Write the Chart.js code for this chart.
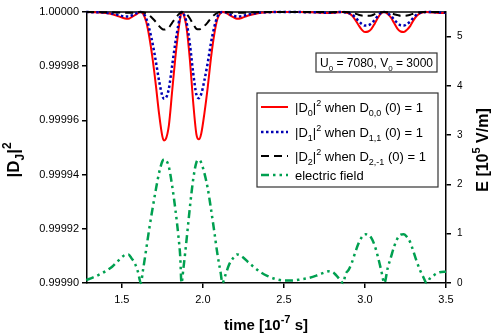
<!DOCTYPE html>
<html lang="en">
<head>
  <meta charset="UTF-8">
  <title>|D_J|^2 and electric field</title>
  <script src="https://cdn.jsdelivr.net/npm/chart.js"></script>
  <style>
    body {
      margin: 0;
      padding: 0;
      background-color: #fff;
    }
    canvas {
      display: block;
    }
  </style>
</head>
<body>
  <canvas id="chart" width="493" height="335"></canvas>
  <script>
    // time in units of 1e-7 s
    const times = [1.28, 1.32, 1.36, 1.40, 1.44, 1.48, 1.52, 1.54, 1.56, 1.58, 1.60, 1.617,
      1.63, 1.65, 1.67, 1.69, 1.71, 1.73, 1.75, 1.76, 1.77, 1.79, 1.81, 1.83, 1.85, 1.86, 1.868,
      1.88, 1.90, 1.92, 1.94, 1.96, 1.975, 1.99, 2.01, 2.03, 2.05, 2.07, 2.09, 2.11, 2.12,
      2.14, 2.16, 2.19, 2.21, 2.24, 2.28, 2.32, 2.36, 2.40, 2.45, 2.50, 2.55, 2.60, 2.65, 2.70, 2.74, 2.78, 2.81, 2.84, 2.866,
      2.88, 2.90, 2.92, 2.94, 2.96, 2.98, 3.00, 3.02, 3.04, 3.06, 3.08, 3.10, 3.12,
      3.14, 3.16, 3.18, 3.20, 3.22, 3.24, 3.26, 3.28, 3.30, 3.32, 3.34, 3.36, 3.381,
      3.40, 3.43, 3.46, 3.50];

    // electric field, 1e5 V/m
    const eField = [0.06, 0.11, 0.17, 0.24, 0.33, 0.46, 0.57, 0.58, 0.50, 0.40, 0.22, 0,
      0.25, 0.68, 1.12, 1.52, 1.90, 2.24, 2.47, 2.51, 2.50, 2.36, 1.98, 1.50, 0.92, 0.55, 0,
      0.30, 0.90, 1.54, 2.10, 2.45, 2.50, 2.44, 2.22, 1.92, 1.50, 1.05, 0.58, 0.20, 0,
      0.17, 0.36, 0.52, 0.58, 0.54, 0.42, 0.31, 0.21, 0.14, 0.08, 0.05, 0.05, 0.07, 0.10, 0.15, 0.20, 0.24, 0.20, 0.09, 0,
      0.18, 0.27, 0.42, 0.62, 0.80, 0.93, 0.99, 0.98, 0.91, 0.76, 0.53, 0.26, 0,
      0.30, 0.52, 0.74, 0.90, 0.98, 0.99, 0.93, 0.82, 0.63, 0.43, 0.26, 0.12, 0,
      0.09, 0.17, 0.22, 0.23];

    const d0 = [1.0000000, 0.9999999, 0.9999998, 0.9999996, 0.9999992, 0.9999984, 0.9999976, 0.9999975, 0.9999981, 0.9999988, 0.9999996, 1.0000000,
      0.9999995, 0.9999965, 0.9999906, 0.9999826, 0.9999729, 0.9999623, 0.9999541, 0.9999526, 0.9999530, 0.9999581, 0.9999705, 0.9999831, 0.9999936, 0.9999977, 1.0000000,
      0.9999993, 0.9999939, 0.9999822, 0.9999668, 0.9999549, 0.9999530, 0.9999552, 0.9999629, 0.9999723, 0.9999831, 0.9999917, 0.9999975, 0.9999997, 1.0000000,
      0.9999998, 0.9999990, 0.9999980, 0.9999975, 0.9999978, 0.9999987, 0.9999993, 0.9999997, 0.9999999, 1.0, 1.0, 1.0, 1.0, 0.9999999, 0.9999998, 0.9999997, 0.9999996, 0.9999997, 0.9999999, 1.0,
      0.9999998, 0.9999995, 0.9999987, 0.9999971, 0.9999952, 0.9999935, 0.9999926, 0.9999928, 0.9999938, 0.9999957, 0.9999979, 0.9999995, 1.0,
      0.9999993, 0.9999980, 0.9999959, 0.9999939, 0.9999928, 0.9999926, 0.9999935, 0.9999949, 0.9999970, 0.9999986, 0.9999995, 0.9999999, 1.0,
      0.9999999, 0.9999998, 0.9999996, 0.9999996];

    const d1 = [1.0000000, 0.9999999, 0.9999999, 0.9999997, 0.9999994, 0.9999989, 0.9999983, 0.9999983, 0.9999987, 0.9999992, 0.9999998, 1.0000000,
      0.9999997, 0.9999977, 0.9999936, 0.9999883, 0.9999817, 0.9999745, 0.9999690, 0.9999680, 0.9999682, 0.9999717, 0.9999801, 0.9999886, 0.9999957, 0.9999985, 1.0000000,
      0.9999995, 0.9999959, 0.9999880, 0.9999776, 0.9999695, 0.9999682, 0.9999698, 0.9999750, 0.9999813, 0.9999886, 0.9999944, 0.9999983, 0.9999998, 1.0000000,
      0.9999999, 0.9999993, 0.9999986, 0.9999983, 0.9999985, 0.9999991, 0.9999995, 0.9999998, 0.9999999, 1.0, 1.0, 1.0, 1.0, 0.9999999, 0.9999999, 0.9999998, 0.9999997, 0.9999998, 1.0, 1.0,
      0.9999998, 0.9999996, 0.9999991, 0.9999980, 0.9999967, 0.9999956, 0.9999950, 0.9999951, 0.9999958, 0.9999971, 0.9999986, 0.9999997, 1.0,
      0.9999995, 0.9999986, 0.9999972, 0.9999959, 0.9999951, 0.9999950, 0.9999956, 0.9999966, 0.9999980, 0.9999991, 0.9999997, 0.9999999, 1.0,
      1.0, 0.9999999, 0.9999998, 0.9999997];

    const d2 = [1.0, 1.0, 1.0, 0.9999999, 0.9999999, 0.9999998, 0.9999997, 0.9999997, 0.9999997, 0.9999998, 1.0, 1.0,
      0.9999999, 0.9999995, 0.9999987, 0.9999976, 0.9999963, 0.9999948, 0.9999937, 0.9999935, 0.9999936, 0.9999943, 0.9999960, 0.9999977, 0.9999991, 0.9999997, 1.0,
      0.9999999, 0.9999992, 0.9999976, 0.9999955, 0.9999938, 0.9999936, 0.9999939, 0.9999949, 0.9999962, 0.9999977, 0.9999989, 0.9999997, 1.0, 1.0,
      1.0, 0.9999999, 0.9999997, 0.9999997, 0.9999997, 0.9999998, 0.9999999, 1.0, 1.0, 1.0, 1.0, 1.0, 1.0, 1.0, 1.0, 1.0, 0.9999999, 1.0, 1.0, 1.0,
      1.0, 0.9999999, 0.9999997, 0.9999994, 0.9999990, 0.9999987, 0.9999986, 0.9999986, 0.9999987, 0.9999992, 0.9999996, 0.9999999, 1.0,
      0.9999999, 0.9999996, 0.9999992, 0.9999989, 0.9999986, 0.9999986, 0.9999987, 0.9999990, 0.9999994, 0.9999997, 0.9999999, 1.0, 1.0,
      1.0, 1.0, 1.0, 0.9999999];

    const xTicks = [1.5, 2.0, 2.5, 3.0, 3.5];
    const yTicks = [0.9999, 0.99992, 0.99994, 0.99996, 0.99998, 1.0];
    const eTicks = [0, 1, 2, 3, 4, 5];

    // rich text pieces: [text, 0 normal | 1 subscript | 2 superscript]
    const legendLabels = [
      [['|D', 0], ['0', 1], ['|', 0], ['2', 2], [' when D', 0], ['0,0', 1], [' (0) = 1', 0]],
      [['|D', 0], ['1', 1], ['|', 0], ['2', 2], [' when D', 0], ['1,1', 1], [' (0) = 1', 0]],
      [['|D', 0], ['2', 1], ['|', 0], ['2', 2], [' when D', 0], ['2,-1', 1], [' (0) = 1', 0]],
      [['electric field', 0]]
    ];
    const noteText = [['U', 0], ['0', 1], [' = 7080, V', 0], ['0', 1], [' = 3000', 0]];
    const leftTitle = [['|D', 0], ['J', 1], ['|', 0], ['2', 2]];
    const rightTitle = [['E [10', 0], ['5', 2], [' V/m]', 0]];
    const bottomTitle = [['time [10', 0], ['-7', 2], [' s]', 0]];

    const FAM = '"Liberation Sans", Arial, Helvetica, sans-serif';

    function drawRich(ctx, parts, x, y, size, weight, align) {
      const fontFor = k => weight + ' ' + (k ? Math.round(size * 0.7) : size) + 'px ' + FAM;
      let w = 0;
      parts.forEach(([t, k]) => { ctx.font = fontFor(k); w += ctx.measureText(t).width; });
      let cx = align === 'center' ? x - w / 2 : x;
      ctx.textAlign = 'left';
      ctx.textBaseline = 'alphabetic';
      parts.forEach(([t, k]) => {
        ctx.font = fontFor(k);
        const dy = k === 1 ? size * 0.3 : (k === 2 ? -size * 0.5 : 0);
        ctx.fillText(t, cx, y + dy);
        cx += ctx.measureText(t).width;
      });
    }

    const toPoints = vals => times.map((t, i) => ({ x: t, y: vals[i] }));

    const decor = {
      id: 'decor',
      beforeDatasetsDraw(chart) {
        const ctx = chart.ctx, a = chart.chartArea;
        ctx.save();
        ctx.strokeStyle = '#000';
        ctx.lineWidth = 1.5;
        ctx.beginPath();
        ctx.moveTo(a.left, a.top);
        ctx.lineTo(a.right, a.top);
        ctx.stroke();
        ctx.restore();
      },
      afterDraw(chart) {
        const ctx = chart.ctx;
        ctx.save();

        // parameter box
        ctx.fillStyle = '#fff';
        ctx.fillRect(316, 53, 121, 19);
        ctx.strokeStyle = '#333';
        ctx.lineWidth = 1.2;
        ctx.strokeRect(316, 53, 121, 19);
        ctx.fillStyle = '#000';
        drawRich(ctx, noteText, 376.5, 67, 12, 'normal', 'center');

        // legend
        ctx.fillStyle = '#fff';
        ctx.fillRect(257, 93, 181, 94);
        ctx.strokeStyle = '#333';
        ctx.strokeRect(257, 93, 181, 94);
        const rows = [112, 137, 161, 180];
        chart.data.datasets.forEach((ds, i) => {
          const y = rows[i];
          ctx.strokeStyle = ds.borderColor;
          ctx.lineWidth = ds.borderWidth;
          ctx.setLineDash(ds.borderDash || []);
          ctx.beginPath();
          ctx.moveTo(261, y - 5);
          ctx.lineTo(288, y - 5);
          ctx.stroke();
          ctx.setLineDash([]);
          ctx.fillStyle = '#000';
          drawRich(ctx, legendLabels[i], 295, y, 13, 'normal', 'left');
        });

        // axis titles
        ctx.fillStyle = '#000';
        drawRich(ctx, bottomTitle, 266, 330, 15, 'bold', 'center');
        ctx.save();
        ctx.translate(19, 160);
        ctx.rotate(-Math.PI / 2);
        drawRich(ctx, leftTitle, 0, 0, 17, 'bold', 'center');
        ctx.restore();
        ctx.save();
        ctx.translate(488, 150);
        ctx.rotate(-Math.PI / 2);
        drawRich(ctx, rightTitle, 0, 0, 16, 'bold', 'center');
        ctx.restore();
        ctx.restore();
      }
    };

    const axisGrid = { drawOnChartArea: false, drawTicks: true, tickLength: 5, color: '#000', lineWidth: 1.5 };
    const axisBorder = { display: true, color: '#000', width: 1.5 };

    new Chart(document.getElementById('chart'), {
      type: 'line',
      data: {
        datasets: [{
          label: '|D0|^2 when D0,0 (0) = 1',
          data: toPoints(d0),
          yAxisID: 'y',
          borderColor: '#ff0000',
          borderWidth: 2,
          order: 3
        }, {
          label: '|D1|^2 when D1,1 (0) = 1',
          data: toPoints(d1),
          yAxisID: 'y',
          borderColor: '#0000b4',
          borderWidth: 2.5,
          borderDash: [2.5, 2.5],
          order: 2
        }, {
          label: '|D2|^2 when D2,-1 (0) = 1',
          data: toPoints(d2),
          yAxisID: 'y',
          borderColor: '#000000',
          borderWidth: 2,
          borderDash: [8, 5],
          order: 1
        }, {
          label: 'electric field',
          data: toPoints(eField),
          yAxisID: 'y2',
          borderColor: '#00a050',
          borderWidth: 2.5,
          borderDash: [8, 4, 2.5, 4, 2.5, 4],
          order: 4
        }]
      },
      options: {
        responsive: false,
        animation: false,
        devicePixelRatio: 1,
        layout: { padding: { top: 10, left: 0, right: 0, bottom: 0 } },
        elements: {
          point: { radius: 0 },
          line: { cubicInterpolationMode: 'monotone', fill: false }
        },
        datasets: { line: { clip: 4 } },
        plugins: {
          legend: { display: false },
          tooltip: { enabled: false }
        },
        scales: {
          x: {
            type: 'linear',
            min: 1.285,
            max: 3.5,
            afterBuildTicks: s => { s.ticks = xTicks.map(v => ({ value: v })); },
            afterFit: s => { s.height = 52; },
            ticks: {
              callback: v => v.toFixed(1),
              color: '#000',
              font: { family: FAM, size: 11 },
              padding: 5,
              maxRotation: 0
            },
            grid: axisGrid,
            border: axisBorder
          },
          y: {
            position: 'left',
            min: 0.9999,
            max: 1.0,
            afterBuildTicks: s => { s.ticks = yTicks.map(v => ({ value: v })); },
            afterFit: s => { s.width = 87; },
            ticks: {
              callback: v => v.toFixed(5),
              color: '#000',
              font: { family: FAM, size: 11 },
              padding: 3
            },
            grid: axisGrid,
            border: axisBorder
          },
          y2: {
            position: 'right',
            min: 0,
            max: 5.5,
            afterBuildTicks: s => { s.ticks = eTicks.map(v => ({ value: v })); },
            afterFit: s => { s.width = 47; },
            ticks: {
              callback: v => String(v),
              color: '#000',
              font: { family: FAM, size: 10 },
              padding: 6
            },
            grid: axisGrid,
            border: axisBorder
          }
        }
      },
      plugins: [decor]
    });
  </script>
</body>
</html>
